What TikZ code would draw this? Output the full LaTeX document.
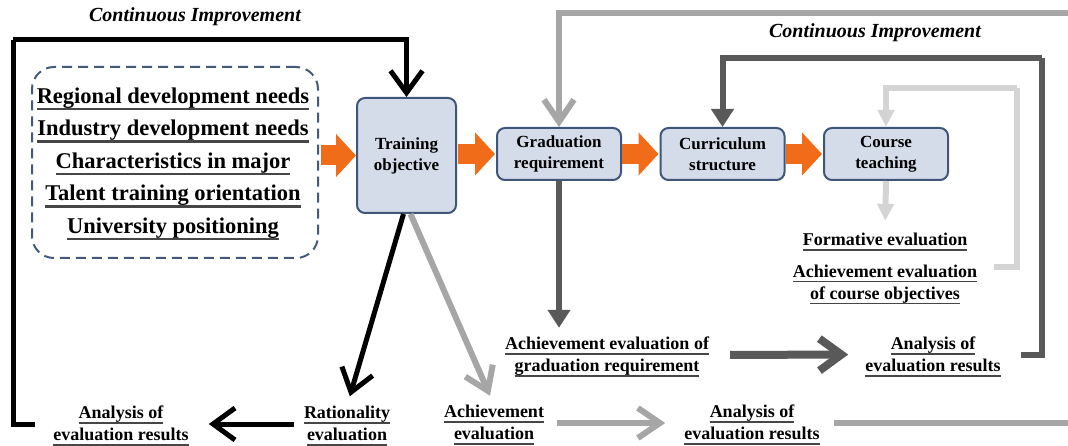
\documentclass[tikz,border=0pt]{standalone}
\usepackage{fontspec}
\setmainfont{Liberation Serif}
\usetikzlibrary{
	arrows.meta		% Straight Barb and Triangle tips
}

\definecolor{boxfill}{RGB}{213,220,233}
\definecolor{boxline}{RGB}{63,86,122}
\definecolor{dashline}{RGB}{68,90,125}
\definecolor{flow}{RGB}{240,108,24}
\definecolor{achgray}{RGB}{166,166,166}
\definecolor{gradgray}{RGB}{89,89,89}
\definecolor{coursegray}{RGB}{212,212,212}
\definecolor{ulgray}{RGB}{70,70,70}

% underlined label line
\newcommand{\undl}[1]{\leavevmode\setbox0=\hbox{#1}\rlap{\color{ulgray}\vrule width\wd0 height -0.2em depth 0.3em}\box0}

\begin{document}
\begin{tikzpicture}[x=1pt, y=-1pt]
	\useasboundingbox (0,0) rectangle (1068,446);
	\begin{scope}[
		stage/.style={draw=boxline, line width=2pt, fill=boxfill, rounded corners=8pt, align=center, inner sep=0pt,
			font=\bfseries\fontsize{17}{21}\selectfont, minimum width=124pt, minimum height=52pt},
		factorbox/.style={draw=dashline, line width=2pt, dash pattern=on 10pt off 6pt, rounded corners=22pt,
			minimum width=286pt, minimum height=191pt},
		factortext/.style={align=center, inner sep=0pt, font=\bfseries\fontsize{22.5}{32.5}\selectfont},
		lbl/.style={align=center, inner sep=0pt, font=\bfseries\fontsize{18}{22}\selectfont},
		ci/.style={inner sep=0pt, font=\bfseries\itshape\fontsize{20}{24}\selectfont},
		push/.style={draw=flow, line width=20pt, -{Triangle[length=20pt,width=42pt]}},
		loopblack/.style={draw=black, line width=5pt, -{Straight Barb[length=22pt,width=32pt]}},
		loopach/.style={draw=achgray, line width=6pt, -{Straight Barb[length=22pt,width=30pt]}},
		loopgrad/.style={draw=gradgray, line width=6pt, -{Triangle[length=18pt,width=22pt]}},
		loopcourse/.style={draw=coursegray, line width=6pt, -{Triangle[length=17pt,width=16pt]}}]

		%% Inputs
		\node[factorbox] (factors) at (175,162.5) {};
		\node[factortext] (needs) at (173,164) {\undl{Regional development needs}\\
			\undl{Industry development needs}\\
			\undl{Characteristics in major}\\
			\undl{Talent training orientation}\\
			\undl{University positioning}};

		%% Stages
		\node[stage, minimum width=99pt, minimum height=115pt] (training) at (406.5,155.5) {Training\\objective};
		\node[stage] (grad) at (559,154) {Graduation\\requirement};
		\node[stage] (curr) at (722.5,154) {Curriculum\\structure};
		\node[stage] (course) at (886,154) {Course\\teaching};

		\draw[push] (factors.east |- training.west) ++(2,0) -- (training.west);
		\draw[push, shorten <=1pt, shorten >=1pt] (training.east |- grad.west) -- (grad.west);
		\draw[push, shorten >=1pt] (grad.east) -- (curr.west);
		\draw[push, shorten >=1pt] (curr.east) -- (course.west);

		% Evaluation labels
		\node[lbl] (formative) at (885,242) {\undl{Formative evaluation}};
		\node[lbl] (courseach) at (885,284.5) {\undl{Achievement evaluation}\\\undl{of course objectives}};
		\node[lbl] (aeg) at (607,357) {\undl{Achievement evaluation of}\\\undl{graduation requirement}};
		\node[lbl] (anaM) at (933,356.5) {\undl{Analysis of}\\\undl{evaluation results}};
		\node[lbl] (rat) at (347,426) {\undl{Rationality}\\\undl{evaluation}};
		\node[lbl] (anaL) at (121,426) {\undl{Analysis of}\\\undl{evaluation results}};
		\node[lbl] (ach) at (494,425) {\undl{Achievement}\\\undl{evaluation}};
		\node[lbl] (anaB) at (752,425) {\undl{Analysis of}\\\undl{evaluation results}};

		% Loop titles
		\node[ci] (ciL) at (195,17) {Continuous Improvement};
		\node[ci] (ciR) at (875,33) {Continuous Improvement};

		% Loop corners
		\coordinate (cornerL) at (13,40);
		\coordinate (cornerT) at (1080,13);
		\coordinate (exitB) at (1080,423);
		\coordinate (cornerG) at (1042,58);
		\coordinate (cornerC) at (1017,88);

		%% Rationality loop
		\draw[loopblack, shorten >=10pt] ([xshift=-3pt]training.south) -- (rat.north);
		\draw[loopblack, shorten <=10pt, shorten >=20pt] ([yshift=2pt]rat.west) -- ([yshift=2pt]anaL.east);
		\draw[loopblack, -, shorten <=18pt] ([yshift=2pt]anaL.west) -| (cornerL);
		\draw[loopblack] (cornerL) -| (training.north);

		%% Achievement loop
		\draw[loopach, shorten >=10pt] ([xshift=4pt]training.south) -- (ach.north);
		\draw[loopach, shorten <=13pt, shorten >=19pt] ([yshift=2pt]ach.east) -- ([yshift=2pt]anaB.west);
		\draw[loopach, -, shorten <=14pt] (anaB.east |- exitB) -- (exitB);
		\draw[loopach] (cornerT) -| (grad.north);

		%% Graduation requirement loop
		\draw[loopgrad, shorten >=9pt] (grad.south) -- (grad.south |- aeg.north);
		\draw[loopgrad, line width=8pt, -{Straight Barb[length=22pt,width=32pt]}, shorten <=21pt, shorten >=17pt] ([yshift=2pt]aeg.east) -- ([yshift=2pt]anaM.west);
		\draw[loopgrad, -, shorten <=20pt] ([yshift=2pt]anaM.east) -| (cornerG);
		\draw[loopgrad] (cornerG) -| (curr.north);

		%% Course loop
		\draw[loopcourse, shorten >=12pt] (course.south) -- (formative.north);
		\draw[loopcourse, -, shorten <=17pt] ([yshift=17pt]courseach.east) -| (cornerC);
		\draw[loopcourse] (cornerC) -| (course.north);
	\end{scope}
\end{tikzpicture}
\end{document}
